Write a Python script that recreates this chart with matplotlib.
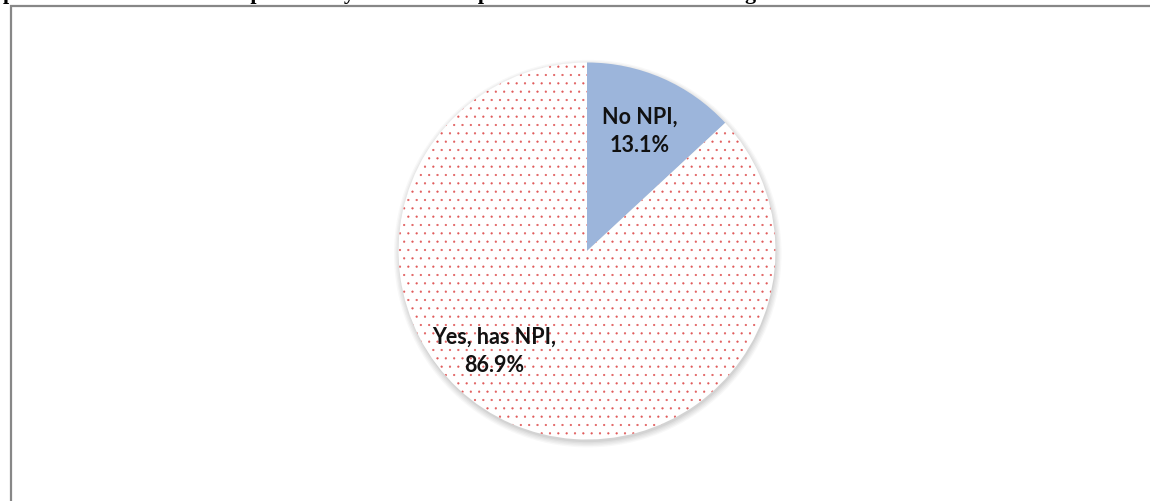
import numpy as np
import matplotlib
matplotlib.use('Agg')
import matplotlib.pyplot as plt
from matplotlib.patches import Circle, Rectangle

# data
categories = ['No NPI', 'Yes, has NPI']
shares = [13.1, 86.9]
pct_labels = ['13.1%', '86.9%']

# title line is cut off at the top of the image, only descenders show
title = 'percent of licensed nurses practice by whether the practice has obtained and registered an NPI'

W, H, DPI = 1150, 502, 100
cx, cy, R = 587, 250, 188.5   # pie centre (px from left / bottom) and radius

plt.rcParams['hatch.linewidth'] = 0.35

fig = plt.figure(figsize=(W / DPI, H / DPI), dpi=DPI)
ax = fig.add_axes([0, 0, 1, 1])

# soft shadow under the pie
for k, a in enumerate([0.04, 0.05, 0.05, 0.06, 0.08]):
    ax.add_patch(Circle((0.004, -0.014), 1.0 + 0.007 * (4 - k), color='#555555',
                        alpha=a, lw=0, zorder=0))

wedges, _ = ax.pie(shares, startangle=90, counterclock=False, radius=1,
                   center=(0, 0), labels=None,
                   wedgeprops=dict(linewidth=0))
wedges[0].set_facecolor('#9cb5db')
wedges[0].set_edgecolor('#9cb5db')
wedges[1].set_facecolor('white')
wedges[1].set_edgecolor('#e05a5a')
wedges[1].set_hatch('..')
for w in wedges:
    w.set_zorder(2)

# label placement (angle in degrees, fraction of radius)
label_pos = [(66.4, 0.70), (227.0, 0.72)]
for name, pct, (ang, r) in zip(categories, pct_labels, label_pos):
    t = np.deg2rad(ang)
    ax.text(r * np.cos(t), r * np.sin(t), name + ',\n' + pct,
            ha='center', va='center', fontsize=15.5, fontweight='bold',
            family='Lato', color='#111111', linespacing=1.45, zorder=3)

ax.set_xlim(-cx / R, (W - cx) / R)
ax.set_ylim(-cy / R, (H - cy) / R)
ax.set_aspect('auto')
ax.axis('off')

# chart area border: only left and top edges fall inside the image
fig.add_artist(Rectangle((11 / W, -0.1), 1.2, 1.1 - 7 / H,
                         transform=fig.transFigure, fill=False,
                         edgecolor='#878787', linewidth=1.6, clip_on=False))

fig.text(3 / W, 1 + 0.8 / H, title, ha='left', va='baseline',
         fontsize=15.8, fontweight='bold', family='Liberation Serif', color='black')

fig.savefig('out.png', dpi=DPI)
